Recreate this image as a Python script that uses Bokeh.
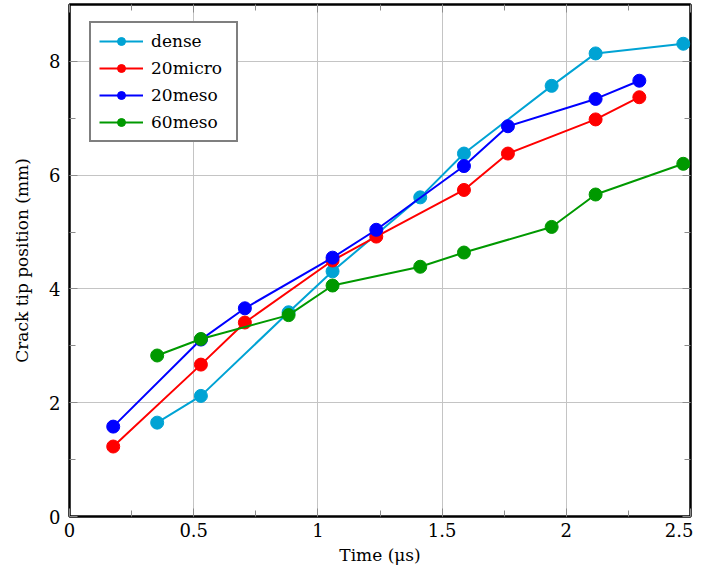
from bokeh.plotting import figure
from bokeh.models import (Range1d, FixedTicker, LinearAxis, Legend, LegendItem)
from bokeh.embed import file_html
from bokeh.resources import INLINE

# ---- data ----
dense_t = [0.353, 0.529, 0.882, 1.059, 1.412, 1.588, 1.941, 2.118, 2.471]
dense_y = [1.65, 2.12, 3.59, 4.31, 5.61, 6.38, 7.57, 8.14, 8.31]

micro20_t = [0.176, 0.529, 0.706, 1.059, 1.235, 1.588, 1.765, 2.118, 2.294]
micro20_y = [1.23, 2.67, 3.41, 4.50, 4.92, 5.74, 6.38, 6.98, 7.37]

meso20_t = [0.176, 0.529, 0.706, 1.059, 1.235, 1.588, 1.765, 2.118, 2.294]
meso20_y = [1.58, 3.11, 3.66, 4.55, 5.04, 6.16, 6.86, 7.34, 7.66]

meso60_t = [0.353, 0.529, 0.882, 1.059, 1.412, 1.588, 1.941, 2.118, 2.471]
meso60_y = [2.83, 3.12, 3.54, 4.06, 4.39, 4.64, 5.09, 5.66, 6.20]

series_names = ["dense", "20micro", "20meso", "60meso"]
series_colors = ["#00a3d4", "#ff0000", "#0000ff", "#009900"]

x_ticks = [0, 0.5, 1, 1.5, 2, 2.5]
x_tick_labels = ["0", "0.5", "1", "1.5", "2", "2.5"]
x_minor = [0.25, 0.75, 1.25, 1.75, 2.25]
y_ticks = [0, 2, 4, 6, 8]
y_tick_labels = ["0", "2", "4", "6", "8"]
y_minor = [1, 3, 5, 7]

FONT = "DejaVu Serif"
FS = "17px"
TFS = "18px"
GRID = "#c4c4c4"
TICK = "#8c8c8c"

p = figure(width=693, height=567, output_backend="svg", toolbar_location=None,
           x_range=Range1d(0, 2.5), y_range=Range1d(0, 9),
           min_border_left=69, min_border_right=3, min_border_top=4,
           min_border_bottom=51)
p.background_fill_color = "white"
p.border_fill_color = "white"
p.outline_line_color = "black"
p.outline_line_width = 2.5

xt = FixedTicker(ticks=x_ticks, minor_ticks=x_minor)
yt = FixedTicker(ticks=y_ticks, minor_ticks=y_minor)


def style_axis(ax, labels=True):
    ax.axis_line_color = None
    ax.major_tick_in = 8
    ax.major_tick_out = 0
    ax.minor_tick_in = 6
    ax.minor_tick_out = 0
    ax.major_tick_line_color = TICK
    ax.minor_tick_line_color = TICK
    ax.major_tick_line_width = 1
    ax.minor_tick_line_width = 1
    if labels:
        ax.major_label_text_font = FONT
        ax.major_label_text_font_size = TFS
        ax.major_label_text_color = "black"
        ax.axis_label_text_font = FONT
        ax.axis_label_text_font_size = FS
        ax.axis_label_text_font_style = "normal"
        ax.axis_label_text_color = "black"
    else:
        ax.major_label_text_color = None
        ax.major_label_text_font_size = "1px"
        ax.major_label_standoff = 0
        ax.axis_label_standoff = 0


p.xaxis.ticker = xt
p.yaxis.ticker = yt
p.xaxis.major_label_overrides = {t: l for t, l in zip(x_ticks, x_tick_labels)}
p.yaxis.major_label_overrides = {t: l for t, l in zip(y_ticks, y_tick_labels)}
style_axis(p.xaxis[0])
style_axis(p.yaxis[0])
p.xaxis.axis_label = "Time (μs)"
p.yaxis.axis_label = "Crack tip position (mm)"
p.xaxis.major_label_standoff = 6
p.xaxis.axis_label_standoff = 5
p.yaxis.major_label_standoff = 9
p.yaxis.axis_label_standoff = 14

top_ax = LinearAxis(ticker=xt)
right_ax = LinearAxis(ticker=yt)
style_axis(top_ax, labels=False)
style_axis(right_ax, labels=False)
p.add_layout(top_ax, "above")
p.add_layout(right_ax, "right")

p.xgrid.ticker = xt
p.ygrid.ticker = yt
p.grid.grid_line_color = GRID
p.grid.grid_line_width = 1

data = [(dense_t, dense_y), (micro20_t, micro20_y), (meso20_t, meso20_y), (meso60_t, meso60_y)]
items = []
for (t, y), name, col in zip(data, series_names, series_colors):
    lr = p.line(t, y, line_color=col, line_width=2)
    sr = p.scatter(t, y, size=4.5, fill_color=col, line_color=col)
    p.scatter(t, y, size=13, fill_color=col, line_color=col)
    items.append(LegendItem(label=name, renderers=[lr, sr]))

legend = Legend(items=items, location=(20, 374), orientation="vertical")
legend.label_text_font = FONT
legend.label_text_font_size = FS
legend.label_text_color = "black"
legend.glyph_width = 44
legend.glyph_height = 20
legend.label_height = 20
legend.label_width = 77
legend.label_standoff = 8
legend.spacing = 7
legend.padding = 8
legend.margin = 0
legend.border_line_color = "black"
legend.border_line_width = 2
legend.background_fill_color = "white"
legend.background_fill_alpha = 1
p.add_layout(legend, "center")

open("out.html", "w").write(file_html(p, INLINE))
